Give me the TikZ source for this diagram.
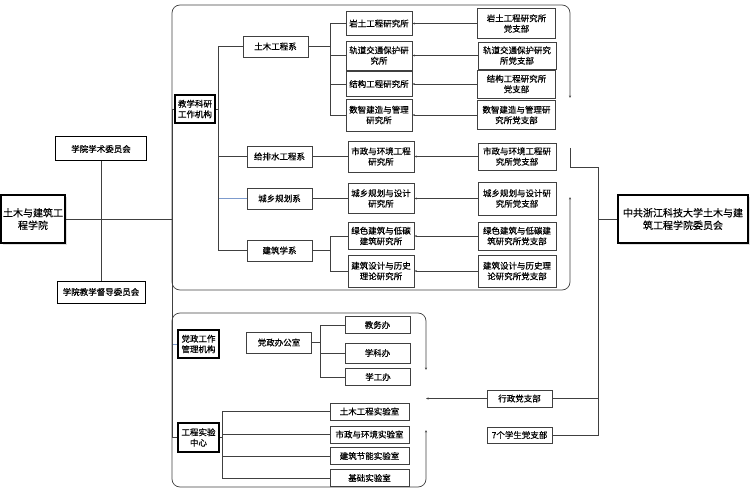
\documentclass[tikz,border=0pt]{standalone}
\usepackage{fontspec}
\setmainfont{Noto Sans CJK SC}[FakeBold=0.4]
\usetikzlibrary{arrows.meta,shadows}
\definecolor{linkblue}{RGB}{125,155,205}
\tikzset{
	box/.style={draw=black!75, line width=0.8pt, fill=white, inner sep=1pt, align=center, font=\fontsize{8.5}{10.5}\selectfont},
	keybox/.style={box, draw=black, line width=1.5pt},
	unitbox/.style={keybox, font=\fontsize{10}{12.5}\selectfont, drop shadow={shadow xshift=2pt, shadow yshift=-2pt, fill=black!25}},
	dept/.style={box, minimum width=65, minimum height=21},
	inst/.style={box, minimum width=66},
	branch/.style={box, minimum width=78},
	office/.style={box, minimum width=65, minimum height=17},
	lab/.style={box, minimum width=79, minimum height=17},
	link/.style={draw=black!75, line width=0.7pt},
	tip/.style={link, -{Stealth[length=2.5pt, width=2pt]}},
	frame/.style={link, rounded corners=8pt, {Stealth[length=2.5pt, width=2pt]}-{Stealth[length=2.5pt, width=2pt]}},
}

\begin{document}
\begin{tikzpicture}[x=1pt, y=-1pt]
	%%%%% START %%%%%
	\useasboundingbox (0,0) rectangle (750,500);
	
	\draw[frame] (570,98) -- (570,5) -- (172,5) -- (172,290) -- (570,290) -- (570,197);
	\draw[frame] (426,370) -- (426,313) -- (172,313) -- (172,487) -- (426,487) -- (426,430);
	
	\coordinate (lbar) at (172,219);
	\coordinate (rbar) at (598,219);
	\coordinate (rtop) at (598,167);
	\coordinate (gap) at (570,148);
	\coordinate (gapb) at (426,398.5);
	
	% college and committees
	\node[unitbox, minimum width=64, minimum height=48] (xy) at (33,219) {土木与建筑工\\程学院};
	\node[box, line width=1pt, draw=black, minimum width=91, minimum height=24] (xsw) at (101,149) {学院学术委员会};
	\node[box, line width=1pt, draw=black, minimum width=88, minimum height=22] (ddw) at (101,292) {学院教学督导委员会};
	\draw[link] (xsw) -- (ddw);
	\draw[link] (xy.east) -- (lbar);
	
	% teaching and research
	\node[keybox, minimum width=40, minimum height=28] (jxky) at (195,109) {教学科研\\工作机构};
	\node[dept] (tmx) at (275.5,46.5) {土木工程系};
	\node[dept] (gps) at (279.5,156.5) {给排水工程系};
	\node[dept] (cxgh) at (279.5,198.5) {城乡规划系};
	\node[dept] (jzx) at (279.5,250.5) {建筑学系};
	
	\node[inst, minimum height=24] (s1) at (379,23.5) {岩土工程研究所};
	\node[inst, minimum height=29] (s2) at (379,55.5) {轨道交通保护研\\究所};
	\node[inst, minimum height=25] (s3) at (379,84) {结构工程研究所};
	\node[inst, minimum height=32] (s4) at (379,115) {数智建造与管理\\研究所};
	\node[inst, minimum height=31] (s5) at (381,156.5) {市政与环境工程\\研究所};
	\node[inst, minimum height=30] (s6) at (381,198.5) {城乡规划与设计\\研究所};
	\node[inst, minimum height=27] (s7) at (381,236) {绿色建筑与低碳\\建筑研究所};
	\node[inst, minimum height=32] (s8) at (381,271) {建筑设计与历史\\理论研究所};
	
	\node[branch, minimum height=30] (b1) at (516.5,23.5) {岩土工程研究所\\党支部};
	\node[branch, minimum height=27] (b2) at (517,55.5) {轨道交通保护研究\\所党支部};
	\node[branch, minimum height=28] (b3) at (516.5,84) {结构工程研究所\\党支部};
	\node[branch, minimum height=29] (b4) at (516.5,115) {数智建造与管理研\\究所党支部};
	\node[branch, minimum height=27] (b5) at (517,156.5) {市政与环境工程研\\究所党支部};
	\node[branch, minimum height=33] (b6) at (517,198.5) {城乡规划与设计研\\究所党支部};
	\node[branch, minimum height=28] (b7) at (517,236) {绿色建筑与低碳建\\筑研究所党支部};
	\node[branch, minimum height=32] (b8) at (517,271) {建筑设计与历史理\\论研究所党支部};
	
	\draw[link] (jxky.west -| lbar) -- (jxky.west);
	\foreach \d in {tmx,gps,jzx}
		\draw[link] (jxky.east) -- ++(3,0) |- (\d.west);
	\draw[link, linkblue] (cxgh.west -| jxky.east) ++(3,0) -- (cxgh.west);
	\foreach \i in {1,...,4}
		\draw[link] (tmx.east) -- ++(22,0) |- (s\i.west);
	\draw[link] (gps.east) -- (s5.west);
	\draw[link] (cxgh.east) -- (s6.west);
	\foreach \i in {7,8}
		\draw[link] (jzx.east) -- ++(18,0) |- (s\i.west);
	\foreach \i in {1,...,8}
		\draw[tip] (b\i.west) -- (s\i.east);
	
	% administration and labs
	\node[keybox, minimum width=41, minimum height=28] (dzgl) at (198.5,344) {党政工作\\管理机构};
	\node[dept] (dzb) at (279,342.5) {党政办公室};
	\node[office] (jwb) at (377.5,325) {教务办};
	\node[office, minimum height=20] (xkb) at (377.5,353) {学科办};
	\node[office] (xgb) at (378,377) {学工办};
	\foreach \o in {jwb,xkb,xgb}
		\draw[link] (dzb.east) -- ++(8,0) |- (\o.west);
	\draw[link, linkblue] (dzgl.west -| lbar) -- (dzgl.west);
	
	\node[keybox, minimum width=41, minimum height=29] (gcsy) at (198.5,437.5) {工程实验\\中心};
	\node[lab] (l1) at (369.5,411.5) {土木工程实验室};
	\node[lab] (l2) at (369.5,434.5) {市政与环境实验室};
	\node[lab] (l3) at (369.5,456) {建筑节能实验室};
	\node[lab] (l4) at (369.5,478) {基础实验室};
	\foreach \i in {1,...,4}
		\draw[link] (gcsy.east) -- ++(3,0) |- (l\i.west);
	\draw[link] (jxky.west -| lbar) -- (gcsy.west -| lbar) -- (gcsy.west);
	
	% party committee
	\node[unitbox, minimum width=130, minimum height=48] (dw) at (683,219) {中共浙江科技大学土木与建\\筑工程学院委员会};
	\node[office] (xzdzb) at (519.5,398.5) {行政党支部};
	\node[office, minimum height=16] (xsdzb) at (519.5,435) {7个学生党支部};
	\draw[link] (dw.west) -- (rbar);
	\draw[link] (gap) |- (rtop) -- (rtop |- xsdzb.east) -- (xsdzb.east);
	\draw[link] (xzdzb.east) -- (xzdzb.east -| rbar);
	\draw[tip] (xzdzb.west) -- (gapb);
	
	%%%%% END %%%%%
\end{tikzpicture}
\end{document}
